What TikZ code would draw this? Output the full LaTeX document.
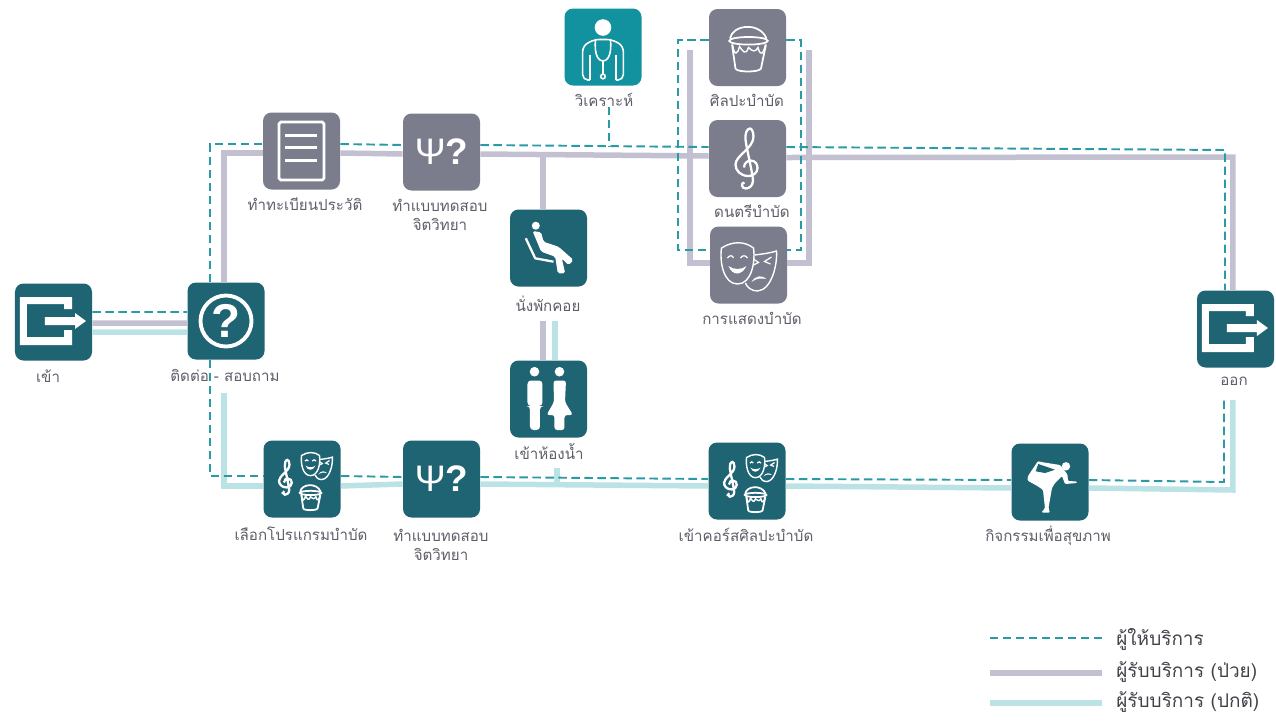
\documentclass[tikz,border=0pt]{standalone}
\usepackage{fontspec}
\usetikzlibrary{calc}
\newfontfamily\thaifont[Script=Thai]{Loma}
\newfontfamily\iconfont{Liberation Sans}
\definecolor{tealbox}{HTML}{1F6473}
\definecolor{greybox}{HTML}{7B7C8C}
\definecolor{cyanbox}{HTML}{12919F}
\definecolor{sickline}{HTML}{C3C0D2}
\definecolor{wellline}{HTML}{BBE2E5}
\definecolor{staffline}{HTML}{2A9AA6}
\definecolor{labeltext}{HTML}{5C5E68}
\tikzset{
	icon/.style={scale=0.2},
	door/.pic={
		\fill [white] (1.85,1.3) -- (1.85,2.5) -- (-3.35,2.5) -- (-3.35,-2.3) -- (1.85,-2.3) -- (1.85,-0.8) -- (1.05,-0.8) -- (1.05,-1.5) -- (-2.65,-1.5) -- (-2.65,1.8) -- (1.05,1.8) -- (1.05,1.3) -- cycle;
		\fill [white] (-0.85,0.5) -- (2.15,0.5) -- (2.15,0.9) -- (3.25,0.1) -- (2.15,-0.7) -- (2.15,-0.3) -- (-0.85,-0.3) -- cycle;
	},
	sheet/.pic={
		\draw [white,line width=1.6pt,rounded corners=1pt] (-2.25,-2.9) rectangle (2.25,2.9);
		\draw [white,line width=1.6pt] (-1.6,1.55) -- (1.6,1.55);
		\draw [white,line width=1.6pt] (-1.6,0.33) -- (1.6,0.33);
		\draw [white,line width=1.6pt] (-1.6,-0.93) -- (1.6,-0.93);
	},
	ring/.pic={
		\draw [white,line width=2.2pt] (0,0) circle (2.55);
	},
	bucket/.pic={
		\draw [white,line width=1pt] (0.1,0.67) ellipse (1.93 and 0.38);
		\draw [white,line width=1pt] (-1.75,0.9) .. controls (-1.5,2.3) and (1.2,2.6) .. (1.9,0.9);
		\draw [white,line width=1pt] (-1.55,0.3) -- (-1.2,-2.1) .. controls (-1.1,-2.5) and (1.2,-2.5) .. (1.35,-2.1) -- (1.85,0.3);
		\draw [white,line width=0.8pt] (-1.5,0.3) .. controls (-1.3,-0.9) and (-1,-0.7) .. (-0.8,0.1) .. controls (-0.5,-0.3) and (-0.2,-0.9) .. (0.1,0) .. controls (0.5,-0.4) and (0.8,-0.5) .. (1.05,0) .. controls (1.3,-1) and (1.6,-0.6) .. (1.8,0.3);
	},
	clef/.pic={
		\draw [white,line width=1.3pt] (-0.35,-0.9) .. controls (-0.35,-0.4) and (0.1,-0.2) .. (0.3,-0.2) .. controls (0.8,-0.2) and (1,-0.6) .. (1,-0.95) .. controls (1,-1.4) and (0.6,-1.75) .. (0.1,-1.75) .. controls (-0.7,-1.75) and (-1.2,-1.2) .. (-1.2,-0.6) .. controls (-1.2,0.3) and (0.6,1) .. (0.6,2.2) .. controls (0.6,2.7) and (0.4,3) .. (0.25,3) .. controls (-0.1,3) and (-0.25,2.4) .. (-0.2,1.9) .. controls (-0.1,1) and (0.55,-1.6) .. (0.55,-2.2) .. controls (0.55,-2.8) and (0.1,-3) .. (-0.2,-3) .. controls (-0.6,-3) and (-0.7,-2.4) .. (-0.3,-2.4);
	},
	masks/.pic={
		\draw [white,line width=0.8pt] (-2.7,1.7) .. controls (-1.6,2.4) and (-0.4,2.4) .. (0.5,1.7) .. controls (0.7,0.3) and (0.3,-1.9) .. (-1.1,-1.9) .. controls (-2.5,-1.9) and (-2.9,0.3) .. (-2.7,1.7) -- cycle;
		\fill [white] (-2,-0.1) .. controls (-1.6,-1.1) and (-0.7,-1.1) .. (-0.2,-0.1) .. controls (-0.7,-0.5) and (-1.5,-0.5) .. (-2,-0.1) -- cycle;
		\draw [white,line width=0.7pt] (-2.1,0.7) .. controls (-1.9,1) and (-1.6,1) .. (-1.5,0.7);
		\draw [white,line width=0.7pt] (-0.8,0.7) .. controls (-0.6,1) and (-0.3,1) .. (-0.1,0.7);
		\draw [white,line width=0.8pt] (0.6,1) .. controls (1.4,1.1) and (2.2,1.2) .. (2.8,1.4) .. controls (2.9,0) and (2.3,-2.5) .. (0.9,-2.6) .. controls (0.3,-2.6) and (-0.2,-2.2) .. (-0.3,-1.8);
		\fill [white] (0.3,-1.7) .. controls (0.7,-1) and (1.4,-1) .. (1.8,-1.4) .. controls (1.3,-1.3) and (0.8,-1.3) .. (0.3,-1.7) -- cycle;
		\draw [white,line width=0.7pt] (0.5,0.6) -- (1,0.25) -- (0.5,0);
		\draw [white,line width=0.7pt] (2.3,0.8) -- (1.6,0.35) -- (2.2,0.1);
	},
	therapy/.pic={
		\pic [scale=0.116] at (-1.6,0.17) {clef};
		\pic [scale=0.112] at (1.47,1.4) {masks};
		\pic [scale=0.112] at (0.8,-1.77) {bucket};
	},
	chair/.pic={
		\fill [white] (-1.27,2.23) circle (0.4);
		\draw [white,line width=1.3pt,line join=round] (-2.27,0.97) -- (-1.33,-1.03) -- (0.5,-1.37);
		\fill [white,rounded corners=1pt] (-1.6,1.7) -- (-0.73,1.57) -- (-0.5,0.63) -- (1,0.13) -- (2.5,-1.2) -- (2,-1.7) -- (1.33,-1.03) -- (1.67,-2.53) -- (0.93,-2.53) -- (0.67,-0.87) -- (-0.73,-0.37) -- cycle;
	},
	toilet/.pic={
		\fill [white] (-1.4,2.73) circle (0.48);
		\fill [white] (1.1,2.73) circle (0.48);
		\fill [white,rounded corners=2pt] (-2.1,1.85) -- (-0.6,1.85) -- (-0.6,-0.7) -- (-0.85,-0.7) -- (-0.85,-3.1) -- (-1.85,-3.1) -- (-1.85,-0.7) -- (-2.1,-0.7) -- cycle;
		\fill [white,rounded corners=1.5pt] (0.5,1.85) -- (1.75,1.85) -- (1.65,-0.3) -- (2.45,-1.6) -- (1.6,-1.6) -- (1.6,-3.1) -- (0.6,-3.1) -- (0.6,-1.6) -- (-0.2,-1.6) -- (0.55,-0.3) -- cycle;
	},
	dancer/.pic={
		\fill [white] (1.6,1.57) circle (0.42);
		\fill [white,rounded corners=0.6pt] (-0.85,-3.05) -- (-0.5,-2.6) -- (-0.7,-0.8) -- (-1.1,-0.5) -- (-2.25,0.15) -- (-2.2,0.6) -- (-1.2,2.1) -- (-0.9,2) -- (1,1.7) -- (1.3,1.35) -- (1.75,0.75) -- (1.8,0.1) -- (2.7,0.05) -- (2.7,-0.1) -- (1.5,-0.2) -- (1.2,0.6) -- (0.5,-0.1) -- (0.2,-0.6) -- (-0.15,-2.6) -- (0,-3.05) -- cycle;
		\fill [tealbox] (-1.43,1.07) -- (-1.17,1.8) -- (0.5,1.23) -- (-0.5,0.9) -- cycle;
	},
	doctor/.pic={
		\fill [white] (0,1.95) circle (0.83);
		\draw [white,line width=0.9pt,rounded corners=3pt] (-1.3,-3.3) -- (-2.03,-3.3) -- (-2.03,0.1) -- (-0.9,0.75) -- (0.9,0.75) -- (2.03,0.1) -- (2.03,-3.3) -- (1.3,-3.3);
		\draw [white,line width=0.9pt] (-1.3,-3.3) -- (-1.3,-0.8);
		\draw [white,line width=0.9pt] (1.3,-3.3) -- (1.3,-0.8);
		\draw [white,line width=0.9pt] (-0.75,0.7) .. controls (-0.9,-0.9) and (-0.4,-1.4) .. (0,-1.4) .. controls (0.4,-1.4) and (0.9,-0.9) .. (0.75,0.7);
		\draw [white,line width=0.9pt] (0,-1.4) -- (0,-2.7);
		\draw [white,line width=0.9pt] (0,-2.95) circle (0.23);
	}
}

\begin{document}
\begin{tikzpicture}[scale=0.2]
	\useasboundingbox (0,0) rectangle (127.6,-72.2);
	\tikzstyle{every node}+=[inner sep=0pt]
	\tikzstyle{iconbox}=[minimum width=15.4mm,minimum height=15.4mm,rounded corners=1.7mm,text=white]
	\tikzstyle{tealicon}=[iconbox,fill=tealbox]
	\tikzstyle{greyicon}=[iconbox,fill=greybox]
	\tikzstyle{cyanicon}=[iconbox,fill=cyanbox]
	\tikzstyle{iconword}=[font={\iconfont\fontsize{21}{21}\selectfont}]
	\tikzstyle{caption}=[font={\thaifont\fontsize{8.6}{11}\selectfont},text=labeltext,align=center]
	\tikzstyle{legendword}=[font={\thaifont\fontsize{10.8}{13}\selectfont},text=labeltext!70!black,anchor=west]
	\tikzstyle{sick}=[sickline,line width=1.1mm]
	\tikzstyle{well}=[wellline,line width=1.1mm]
	\tikzstyle{staff}=[staffline,line width=1.1pt,dash pattern=on 4.8pt off 2.6pt]

	\draw (5.35,-32.2) node [tealicon] (in) {};
	\draw (22.6,-32.1) node [tealicon,font={\iconfont\bfseries\fontsize{27}{27}\selectfont}] (ask) {?};
	\draw (30.15,-15.1) node [greyicon] (reg) {};
	\draw (44.15,-15.2) node [greyicon,iconword] (psy) {Ψ\textbf{?}};
	\draw (60.3,-4.7) node [cyanicon] (ana) {};
	\draw (74.75,-4.75) node [greyicon] (art) {};
	\draw (74.75,-15.85) node [greyicon] (mus) {};
	\draw (74.85,-26.5) node [greyicon] (dra) {};
	\draw (54.85,-24.8) node [tealicon] (rest) {};
	\draw (54.85,-39.9) node [tealicon] (wc) {};
	\draw (30.2,-47.9) node [tealicon] (prg) {};
	\draw (44.15,-47.9) node [tealicon,iconword] (tst) {Ψ\textbf{?}};
	\draw (74.7,-48.1) node [tealicon] (cou) {};
	\draw (105,-48.2) node [tealicon] (yog) {};
	\draw (123.55,-32.9) node [tealicon] (out) {};

	\pic [icon] at (in) {door};
	\pic [icon] at (out) {door};
	\pic [icon] at (ask) {ring};
	\pic [icon] at (reg) {sheet};
	\pic [icon] at (ana) {doctor};
	\pic [icon] at (art) {bucket};
	\pic [icon] at (mus) {clef};
	\pic [icon] at (dra) {masks};
	\pic [icon] at (rest) {chair};
	\pic [icon] at (wc) {toilet};
	\pic [icon] at (prg) {therapy};
	\pic [icon] at (cou) {therapy};
	\pic [icon] at (yog) {dancer};

	\draw (4.8,-37.6) node [caption] (inlab) {เข้า};
	\draw (22.5,-37.5) node [caption] (asklab) {ติดต่อ - สอบถาม};
	\draw (30.5,-20.4) node [caption] (reglab) {ทำทะเบียนประวัติ};
	\draw (44,-21.5) node [caption] (psylab) {ทำแบบทดสอบ\\จิตวิทยา};
	\draw (60.4,-10) node [caption] (analab) {วิเคราะห์};
	\draw (74.7,-10) node [caption] (artlab) {ศิลปะบำบัด};
	\draw (75.2,-21.1) node [caption] (muslab) {ดนตรีบำบัด};
	\draw (75.2,-31.8) node [caption] (dralab) {การแสดงบำบัด};
	\draw (54.8,-30.4) node [caption] (restlab) {นั่งพักคอย};
	\draw (54.9,-45.2) node [caption] (wclab) {เข้าห้องน้ำ};
	\draw (30.1,-53.4) node [caption] (prglab) {เลือกโปรแกรมบำบัด};
	\draw (44.1,-54.5) node [caption] (tstlab) {ทำแบบทดสอบ\\จิตวิทยา};
	\draw (74.6,-53.5) node [caption] (coulab) {เข้าคอร์สศิลปะบำบัด};
	\draw (104.8,-53.6) node [caption] (yoglab) {กิจกรรมเพื่อสุขภาพ};
	\draw (123.4,-38.1) node [caption] (outlab) {ออก};

	\coordinate (topr) at (123.3,-15.7);
	\coordinate (topd) at (122.5,-15);
	\coordinate (botr) at (123.3,-49);
	\coordinate (botd) at (122.4,-48.2);
	\coordinate (endr) at (123.3,-40);
	\coordinate (endd) at (122.4,-40);
	\coordinate (askw) at (22.4,-39.3);
	\coordinate (mid) at (54.3,-15.5);
	\coordinate (anad) at (60.9,-14.7);
	\coordinate (artl) at (69,-5);
	\coordinate (artr) at (80.9,-5);
	\coordinate (wcs) at (54.3,-32.1);
	\coordinate (wcn) at (55.5,-32.1);
	\coordinate (wcb) at (55.7,-46.8);
	\coordinate (wcj) at (55.7,-48.5);

	\draw [sick] ($(in.east)+(0,-0.1)$) -- ($(ask.west)+(0,-0.2)$);
	\draw [sick] ($(ask.north)+(-0.2,0)$) |- ($(reg.west)+(0,-0.2)$);
	\draw [sick] ($(reg.east)+(0,-0.2)$) -- ($(psy.west)+(0,-0.2)$);
	\draw [sick] ($(psy.east)+(0,-0.2)$) -- ($(mus.west)+(0,0.25)$);
	\draw [sick] ($(mus.east)+(0,0.1)$) -- (topr) -- (topr |- out.north);
	\draw [sick] (mid) -- (mid |- rest.north);
	\draw [sick] ($(dra.west)+(0,0.2)$) -| (artl);
	\draw [sick] ($(dra.east)+(0,0.2)$) -| (artr);
	\draw [sick] (wcs) -- (wcs |- wc.north);

	\draw [well] ($(in.east)+(0,-1)$) -- ($(ask.west)+(0,-1.1)$);
	\draw [well] (wcn) -- (wcn |- wc.north);
	\draw [well] (wcb) -- (wcj);
	\draw [well] (askw) |- ($(prg.west)+(0,-0.7)$);
	\draw [well] ($(prg.east)+(0,-0.7)$) -- ($(tst.west)+(0,-0.5)$);
	\draw [well] ($(tst.east)+(0,-0.5)$) -- ($(cou.west)+(0,-0.5)$);
	\draw [well] ($(cou.east)+(0,-0.5)$) -- ($(yog.west)+(0,-0.6)$);
	\draw [well] ($(yog.east)+(0,-0.6)$) -- (botr) -- (endr);

	\draw [staff] ($(in.east)+(0,1)$) -- ($(ask.west)+(0,0.9)$);
	\draw [staff] ($(ask.north)+(-1.6,0)$) |- ($(reg.west)+(0,0.7)$);
	\draw [staff] ($(reg.east)+(0,0.7)$) -- ($(psy.west)+(0,0.7)$);
	\draw [staff] ($(psy.east)+(0,0.7)$) -- ($(mus.west)+(0,1.15)$);
	\draw [staff] ($(mus.east)+(0,1.15)$) -- (topd) -- (topd |- out.north);
	\draw [staff] (analab.south -| anad) -- (anad);
	\draw [staff] ($(art.west)+(0,0.75)$) -| ($(dra.west)+(-3.15,1.5)$) -- ($(dra.west)+(0,1.5)$);
	\draw [staff] ($(art.east)+(0,0.75)$) -| ($(dra.east)+(1.35,1.5)$) -- ($(dra.east)+(0,1.5)$);
	\draw [staff] ($(ask.south)+(-1.6,0)$) |- ($(prg.west)+(0,0.3)$);
	\draw [staff] ($(prg.east)+(0,0.3)$) -- ($(tst.west)+(0,0.2)$);
	\draw [staff] ($(tst.east)+(0,0.2)$) -- ($(cou.west)+(0,0.2)$);
	\draw [staff] ($(cou.east)+(0,0.2)$) -- ($(yog.west)+(0,0.2)$);
	\draw [staff] ($(yog.east)+(0,0.2)$) -- (botd) -- (endd);

	\draw (111.6,-63.9) node [legendword] (legstaff) {ผู้ให้บริการ};
	\draw (111.6,-67.2) node [legendword] (legsick) {ผู้รับบริการ (ป่วย)};
	\draw (111.6,-70.2) node [legendword] (legwell) {ผู้รับบริการ (ปกติ)};
	\draw [staff] ($(legstaff.west)+(-12.6,0.1)$) -- ($(legstaff.west)+(-1.4,0.1)$);
	\draw [sick] ($(legsick.west)+(-12.6,-0.1)$) -- ($(legsick.west)+(-1.4,-0.1)$);
	\draw [well] ($(legwell.west)+(-12.6,-0.1)$) -- ($(legwell.west)+(-1.4,-0.1)$);
\end{tikzpicture}
\end{document}
